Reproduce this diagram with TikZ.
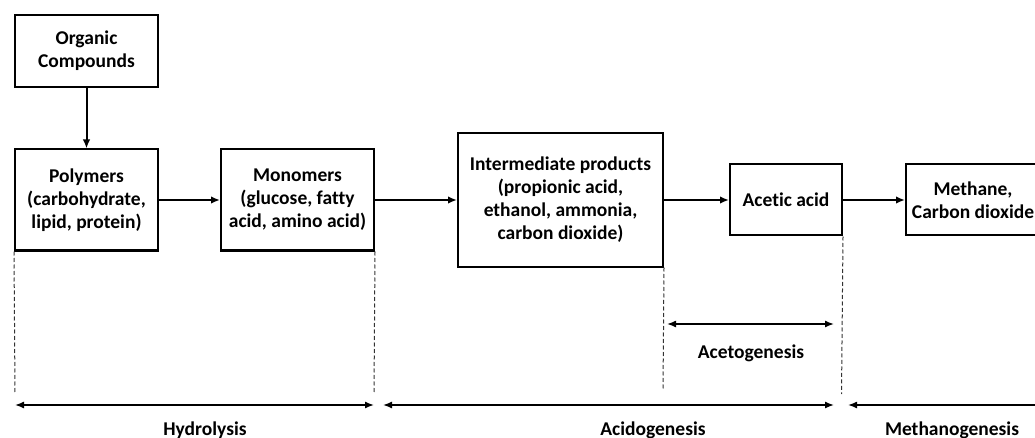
\documentclass[tikz,border=0pt]{standalone}
\usepackage{fontspec}
\setmainfont{Carlito}[RawFeature={-liga}]
\usetikzlibrary{arrows.meta}
\begin{document}
\begin{tikzpicture}[x=1pt,y=-1pt,
  box/.style={draw,line width=2pt,rectangle,align=center,inner sep=0pt,
    font=\bfseries\fontsize{19.5}{23}\selectfont},
  flow/.style={line width=2pt,-{Latex[length=9pt,width=7.5pt]}},
  span/.style={line width=1.4pt,{Latex[length=9pt,width=7pt]}-{Latex[length=9pt,width=7pt]}},
  guide/.style={line width=1pt,dash pattern=on 4pt off 2.5pt,black!80},
  lab/.style={font=\bfseries\fontsize{19.5}{23}\selectfont,anchor=base}]
\useasboundingbox (0,0) rectangle (1035,438);
\node[box,minimum width=143pt,minimum height=72pt] (org) at (86.5,51) {Organic\\Compounds};
\node[box,minimum width=143pt,minimum height=101pt] (poly) at (86.5,200) {Polymers\\(carbohydrate,\\lipid, protein)};
\node[box,minimum width=153pt,minimum height=101pt] (mono) at (297.5,200) {Monomers\\(glucose, fatty\\acid, amino acid)};
\node[box,minimum width=205pt,minimum height=133pt] (inter) at (560.5,200) {Intermediate products\\(propionic acid,\\ethanol, ammonia,\\carbon dioxide)};
\node[box,minimum width=112pt,minimum height=71pt] (acet) at (786,200) {Acetic acid};
\node[box,minimum width=134pt,minimum height=71pt] (meth) at (973,200) {Methane,\\Carbon dioxide};
\draw[flow] (org) -- (poly);
\draw[flow] (poly) -- (mono);
\draw[flow] (mono.east) -- (inter.west);
\draw[flow] (inter.east) -- (acet.west);
\draw[flow] (acet.east) -- (meth.west);
% guide coordinates
\coordinate (g1) at (15,393);
\coordinate (g2) at (374,393);
\coordinate (g3) at (663,390);
\coordinate (g4) at (841.5,394);
\draw[guide] (poly.south west) -- (g1);
\draw[guide] (mono.south east) -- (g2);
\draw[guide] (inter.south east) -- (g3);
\draw[guide] (acet.south east) -- (g4);
% span arrows
\coordinate (h1) at (15,405);
\coordinate (h2) at (374,405);
\coordinate (a1) at (383,405);
\coordinate (a2) at (834,405);
\coordinate (m1) at (848,405);
\coordinate (m2) at (1045,405);
\coordinate (c1) at (667,324);
\coordinate (c2) at (834,324);
\draw[span] (h1) -- (h2);
\draw[span] (a1) -- (a2);
\draw[line width=1.4pt,{Latex[length=9pt,width=7pt]}-] (m1) -- (m2);
\draw[span] (c1) -- (c2);
\node[lab] (lh) at (205,435) {Hydrolysis};
\node[lab] (la) at (653,435) {Acidogenesis};
\node[lab] (lm) at (952,435) {Methanogenesis};
\node[lab] (lc) at (751,358) {Acetogenesis};
\end{tikzpicture}
\end{document}
